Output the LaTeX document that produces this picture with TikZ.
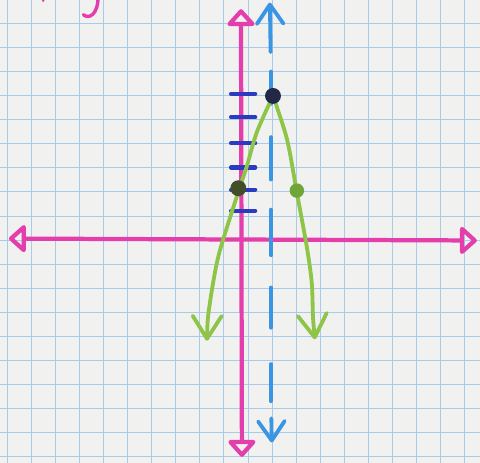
\documentclass[tikz,border=0pt]{standalone}
\usepackage{xcolor}
\usepackage{tikz}
\usetikzlibrary{arrows.meta}
\definecolor{paper}{RGB}{241,241,239}
\definecolor{gridblue}{RGB}{168,202,236}
\definecolor{axispink}{RGB}{228,62,172}
\definecolor{dashblue}{RGB}{58,150,226}
\definecolor{tickblue}{RGB}{44,58,192}
\definecolor{curvegreen}{RGB}{142,196,72}
\definecolor{vertexdark}{RGB}{36,40,72}
\definecolor{olivedark}{RGB}{66,78,40}
\definecolor{pointgreen}{RGB}{110,166,56}
\tikzstyle{gridline} = [draw=gridblue, line width=0.9pt]
\tikzstyle{axis} = [
  draw=axispink, line width=5pt, line join=round,
  {Triangle[open, length=0.75cm, width=1.3cm, round]}-{Triangle[open, length=0.75cm, width=1.3cm, round]}
]
\tikzstyle{dashline} = [draw=dashblue, line width=4.5pt, line cap=round]
\tikzstyle{barb} = [-{Straight Barb[length=0.8cm, width=1.1cm, round]}]
\tikzstyle{tick} = [draw=tickblue, line width=5pt, line cap=round]
\tikzstyle{curve} = [draw=curvegreen, line width=4.5pt, line cap=round,
  -{Straight Barb[length=0.95cm, width=1.2cm, round]}]
\tikzstyle{dot} = [circle, inner sep=0pt, minimum size=0.66cm]
\begin{document}
\begin{tikzpicture}

  % Paper and grid
  \fill[paper] (-10.04,-9.25) rectangle (9.88,9.96);
  \useasboundingbox (-10.04,-9.25) rectangle (9.88,9.96);
  \foreach \i in {0,...,19}
    \draw[gridline] (-9.75+\i,-9.25) -- (-9.75+\i,9.96);
  \foreach \j in {-9,...,9}
    \draw[gridline] (-10.04,\j) -- (9.88,\j);

  % Pencil mark at the top
  \draw[axispink, line width=4pt, line cap=round]
    (-5.97,10.1) .. controls (-5.97,9.35) and (-6.35,9.15) .. (-6.58,9.35);
  \draw[axispink, line width=2.5pt, line cap=round] (-8.27,10.0) -- (-8.24,9.92);

  % Axes
  \coordinate (xmin) at (-9.67,0.06);
  \coordinate (xmax) at (9.75,-0.02);
  \coordinate (ymin) at (0,-9.0);
  \coordinate (ymax) at (-0.04,9.58);
  \draw[axis] (xmin) -- (xmax);
  \draw[axis] (ymin) -- (ymax);

  % Axis of symmetry
  \draw[dashline, barb] (1.19,7.8) -- (1.16,9.85);
  \foreach \a/\b in {6.99/5.65, 4.27/2.51, 1.26/-0.63, -1.97/-3.64, -5.15/-6.69}
    \draw[dashline] (1.2,\a) -- (1.2,\b);
  \draw[dashline, barb] (1.22,-7.4) -- (1.24,-8.4);

  % Ticks
  \foreach \y in {1.21,2.09,3.01,4.02,5.1,6.07}
    \draw[tick] (-0.45,\y) -- (0.55,\y);

  % Parabola
  \draw[curve] plot[smooth, tension=0.5] coordinates {(1.29,5.98) (0.62,4.48) (0.2,3.05)
    (-0.12,2.09) (-0.91,-0.42) (-1.2,-1.8) (-1.41,-3.22) (-1.45,-4.18)};
  \draw[curve] plot[smooth, tension=0.5] coordinates {(1.29,5.98) (1.87,4.18) (2.28,1.97)
    (2.7,-0.33) (2.9,-1.8) (2.95,-3.22) (3.03,-4.12)};

  % Points
  \node[dot, fill=vertexdark] (vertex) at (1.29,5.98) {};
  \node[dot, fill=olivedark] (yint) at (-0.15,2.15) {};
  \node[dot, fill=pointgreen, minimum size=0.6cm] (mirror) at (2.28,2.05) {};

\end{tikzpicture}
\end{document}
